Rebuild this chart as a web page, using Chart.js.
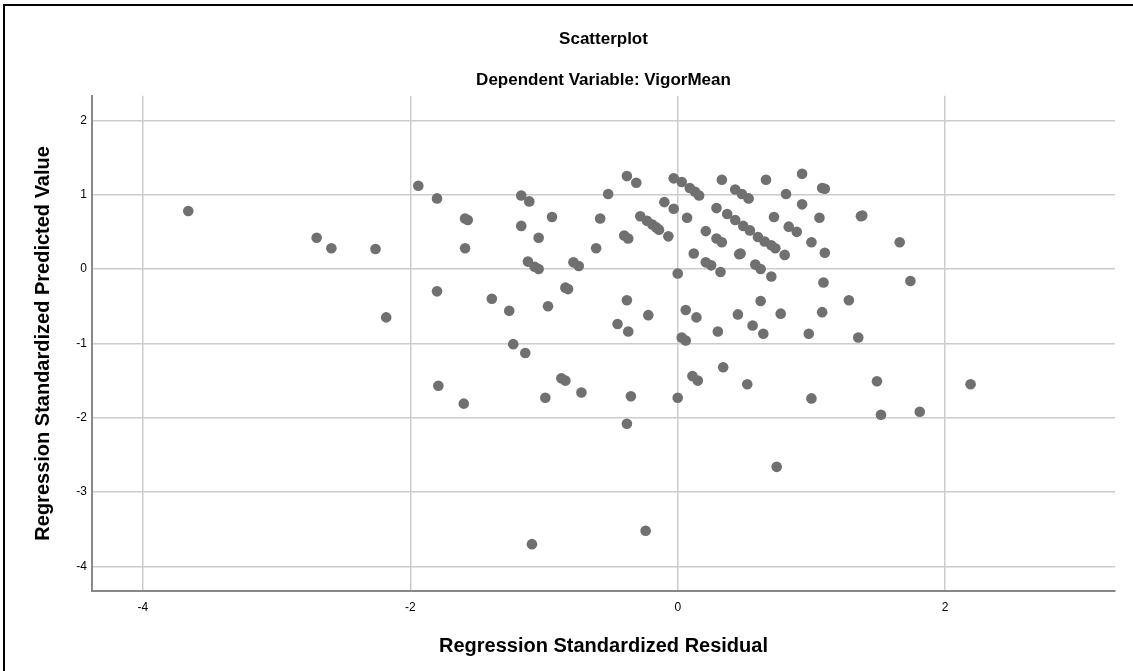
<!DOCTYPE html>
<html>
<head>
<meta charset="utf-8">
<script src="https://cdn.jsdelivr.net/npm/chart.js@4.4.1/dist/chart.umd.min.js"></script>
<style>
  html, body { margin: 0; padding: 0; background: #fff; }
  #wrap { position: relative; width: 1133px; height: 671px; overflow: hidden; }
  #frame { position: absolute; left: 3px; top: 4px; width: 1140px; height: 680px;
           border-left: 2px solid #000; border-top: 2px solid #000; pointer-events: none; }
  canvas { position: absolute; left: 0; top: 0; }
</style>
</head>
<body>
<div id="wrap">
  <canvas id="scatter" width="1133" height="671"></canvas>
  <div id="frame"></div>
</div>
<script>
// Regression residuals vs predicted values
const residuals = [
  -3.66, -2.70, -2.59, -2.26, -2.18, -1.94, -1.80, -1.59, -1.57, -1.59,
  -1.80, -1.17, -1.11, -1.17, -1.04, -0.94, -1.12, -1.07, -1.04, -0.78,
  -0.74, -0.58, -0.61, -0.52, -0.38, -0.31, -0.40, -0.37, -0.28, -0.23,
  -0.19, -0.16, -0.14, -0.07, -0.10, -0.03, -0.03, 0.03, 0.09, 0.13,
  0.16, 0.33, 0.43, 0.48, 0.53, 0.07, 0.29, 0.37, 0.43, 0.21,
  0.29, 0.33, 0.12, 0.21, 0.25, 0.32, 0.00, 0.46, 0.49, 0.54,
  0.60, 0.65, 0.70, 0.73, 0.66, 0.93, 1.08, 1.10, 0.81, 0.93,
  0.72, 1.06, 1.38, 0.83, 0.89, 1.00, 1.10, 0.80, 1.66, 0.58,
  0.62, 0.70, 1.09, 1.74, 0.62, 1.28, 0.77, 1.08, 0.56, 0.64,
  0.98, 1.35, -1.39, -1.26, -0.97, -0.84, -0.82, -0.38, -0.22, -0.45,
  -0.37, 0.06, 0.14, 0.45, 0.30, 0.03, 0.06, -1.23, -1.14, -1.79,
  -1.60, -0.99, -0.87, -0.84, -0.72, -0.35, -0.38, 0.00, 0.11, 0.15,
  0.34, 0.52, -1.09, -0.24, 1.00, 1.49, 2.19, 1.52, 1.81, 0.74,
  1.37, 0.47
];
const predicted = [
  0.78, 0.42, 0.28, 0.27, -0.65, 1.12, 0.95, 0.68, 0.66, 0.28,
  -0.30, 0.99, 0.91, 0.58, 0.42, 0.70, 0.10, 0.03, 0.00, 0.09,
  0.04, 0.68, 0.28, 1.01, 1.25, 1.16, 0.45, 0.41, 0.71, 0.65,
  0.60, 0.56, 0.53, 0.44, 0.90, 0.81, 1.22, 1.17, 1.09, 1.04,
  0.99, 1.20, 1.07, 1.01, 0.95, 0.69, 0.82, 0.74, 0.66, 0.51,
  0.41, 0.36, 0.21, 0.09, 0.05, -0.04, -0.06, 0.20, 0.58, 0.52,
  0.43, 0.37, 0.32, 0.28, 1.20, 1.28, 1.09, 1.08, 1.01, 0.87,
  0.70, 0.69, 0.72, 0.57, 0.50, 0.36, 0.22, 0.19, 0.36, 0.06,
  0.00, -0.10, -0.18, -0.16, -0.43, -0.42, -0.60, -0.58, -0.76, -0.87,
  -0.87, -0.92, -0.40, -0.56, -0.50, -0.25, -0.27, -0.42, -0.62, -0.74,
  -0.84, -0.55, -0.65, -0.61, -0.84, -0.92, -0.96, -1.01, -1.13, -1.57,
  -1.81, -1.73, -1.47, -1.50, -1.66, -1.71, -2.08, -1.73, -1.44, -1.50,
  -1.32, -1.55, -3.70, -3.52, -1.74, -1.51, -1.55, -1.96, -1.92, -2.66,
  0.71, 0.21
];
const xTicks = [-4, -2, 0, 2];
const yTicks = [-4, -3, -2, -1, 0, 1, 2];

const points = residuals.map((r, i) => ({ x: r, y: predicted[i] }));
const fontFamily = "'Liberation Sans', Arial, sans-serif";

new Chart(document.getElementById('scatter'), {
  type: 'scatter',
  data: {
    datasets: [{
      data: points,
      backgroundColor: '#707070',
      borderWidth: 0,
      pointRadius: 5.3,
      pointHoverRadius: 5.3
    }]
  },
  options: {
    responsive: false,
    animation: false,
    layout: { padding: { left: 0, right: 18, top: 0, bottom: 0 } },
    plugins: {
      legend: { display: false },
      tooltip: { enabled: false },
      title: {
        display: true,
        text: 'Scatterplot',
        fullSize: false,
        color: '#000',
        font: { family: fontFamily, size: 17, weight: 'bold' },
        padding: { top: 29, bottom: 0 }
      },
      subtitle: {
        display: true,
        text: 'Dependent Variable: VigorMean',
        fullSize: false,
        color: '#000',
        font: { family: fontFamily, size: 17, weight: 'bold' },
        padding: { top: 21, bottom: 5 }
      }
    },
    scales: {
      x: {
        type: 'linear',
        min: -4.38,
        max: 3.27,
        afterBuildTicks: (scale) => { scale.ticks = xTicks.map(v => ({ value: v })); },
        afterFit: (scale) => { scale.height = 80; },
        grid: { color: '#cccccc', lineWidth: 1.5, drawTicks: false },
        border: { color: '#888888', width: 2 },
        ticks: {
          color: '#000',
          padding: 9,
          font: { family: fontFamily, size: 12 }
        },
        title: {
          display: true,
          text: 'Regression Standardized Residual',
          color: '#000',
          font: { family: fontFamily, size: 20, weight: 'bold' },
          padding: { top: 0, bottom: 13 }
        }
      },
      y: {
        type: 'linear',
        min: -4.33,
        max: 2.33,
        afterBuildTicks: (scale) => { scale.ticks = yTicks.map(v => ({ value: v })); },
        afterFit: (scale) => { scale.width = 92; },
        grid: { color: '#cccccc', lineWidth: 1.5, drawTicks: false },
        border: { color: '#888888', width: 2 },
        ticks: {
          color: '#000',
          padding: 5,
          font: { family: fontFamily, size: 12 }
        },
        title: {
          display: true,
          text: 'Regression Standardized Predicted Value',
          color: '#000',
          font: { family: fontFamily, size: 20, weight: 'bold' },
          padding: { top: 31, bottom: 0 }
        }
      }
    }
  }
});
</script>
</body>
</html>
